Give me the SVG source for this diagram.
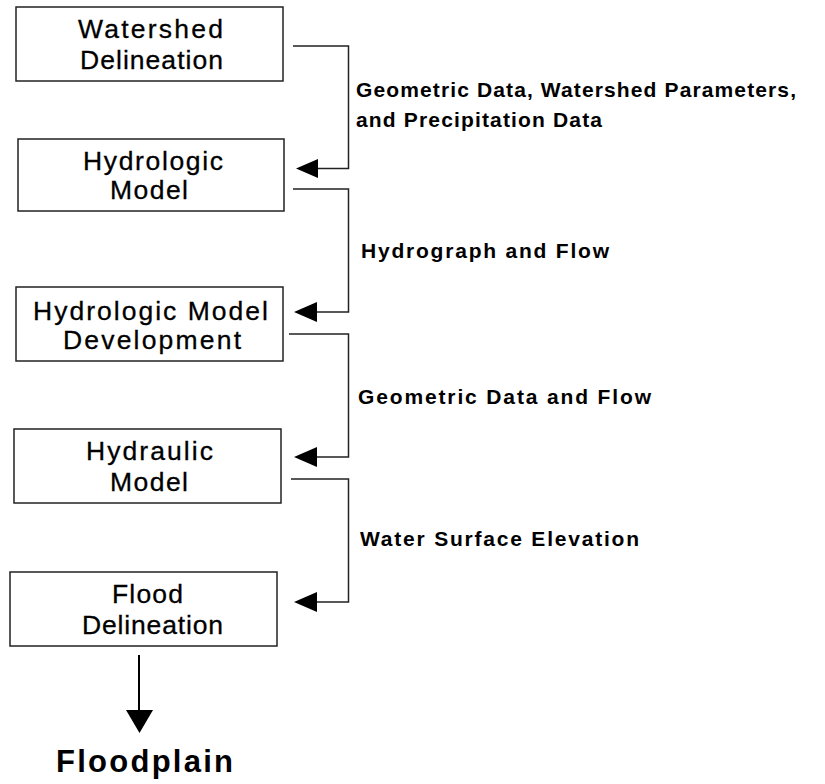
<svg xmlns="http://www.w3.org/2000/svg" width="825" height="784" viewBox="0 0 825 784">
<style>
.box{fill:#fff;stroke:#222;stroke-width:1.5}
.bt{font-family:"Liberation Sans",Arial,sans-serif;font-size:26.5px;fill:#000;text-anchor:middle;stroke:#000;stroke-width:0.3}
.lt{font-family:"Liberation Sans",Arial,sans-serif;font-size:21px;font-weight:bold;fill:#000}
.ln{fill:none;stroke:#222;stroke-width:1.5}
.ah{fill:#000}
</style>
<rect width="825" height="784" fill="#fff"/>
<g id="watershed-delineation">
<rect class="box" x="16" y="7" width="267" height="74"/>
<text class="bt" x="150.5" y="38" textLength="145" lengthAdjust="spacing">Watershed</text>
<text class="bt" x="151.5" y="69" textLength="143" lengthAdjust="spacing">Delineation</text>
</g>
<g id="hydrologic-model">
<rect class="box" x="18" y="139" width="266" height="72"/>
<text class="bt" x="153" y="170" textLength="140" lengthAdjust="spacing">Hydrologic</text>
<text class="bt" x="149" y="199" textLength="78" lengthAdjust="spacing">Model</text>
</g>
<g id="hydrologic-model-development">
<rect class="box" x="16" y="287" width="267" height="74"/>
<text class="bt" x="150.5" y="320" textLength="235" lengthAdjust="spacing">Hydrologic Model</text>
<text class="bt" x="152" y="349" textLength="178" lengthAdjust="spacing">Development</text>
</g>
<g id="hydraulic-model">
<rect class="box" x="14" y="429" width="267" height="74"/>
<text class="bt" x="149.5" y="460" textLength="127" lengthAdjust="spacing">Hydraulic</text>
<text class="bt" x="149" y="491" textLength="78" lengthAdjust="spacing">Model</text>
</g>
<g id="flood-delineation">
<rect class="box" x="10" y="572" width="267" height="74"/>
<text class="bt" x="147.5" y="603" textLength="71" lengthAdjust="spacing">Flood</text>
<text class="bt" x="152.5" y="634" textLength="141" lengthAdjust="spacing">Delineation</text>
</g>
<g id="floodplain">
<text x="56" y="772" font-family="Liberation Sans,Arial,sans-serif" font-size="31" font-weight="bold" textLength="177" lengthAdjust="spacing">Floodplain</text>
</g>
<g id="connectors">
<path class="ln" d="M293,46 H348.5 V168.5 H316"/>
<polygon class="ah" points="296,168.5 318,159 318,178"/>
<path class="ln" d="M293,189 H348.5 V312 H316"/>
<polygon class="ah" points="294,312 317,302 317,322"/>
<path class="ln" d="M289,334 H348.5 V457 H316"/>
<polygon class="ah" points="294,457 317,447 317,467"/>
<path class="ln" d="M291,479 H348.5 V602 H316"/>
<polygon class="ah" points="294,602 317,592 317,612"/>
<path d="M139,655 V712" fill="none" stroke="#000" stroke-width="2"/>
<polygon class="ah" points="126,710 153,710 139.5,733"/>
</g>
<g id="labels">
<text class="lt" x="356" y="97" textLength="440" lengthAdjust="spacing">Geometric Data, Watershed Parameters,</text>
<text class="lt" x="356" y="127" textLength="246" lengthAdjust="spacing">and Precipitation Data</text>
<text class="lt" x="361" y="258" textLength="248" lengthAdjust="spacing">Hydrograph and Flow</text>
<text class="lt" x="358" y="404" textLength="293" lengthAdjust="spacing">Geometric Data and Flow</text>
<text class="lt" x="360" y="546" textLength="279" lengthAdjust="spacing">Water Surface Elevation</text>
</g>
</svg>
